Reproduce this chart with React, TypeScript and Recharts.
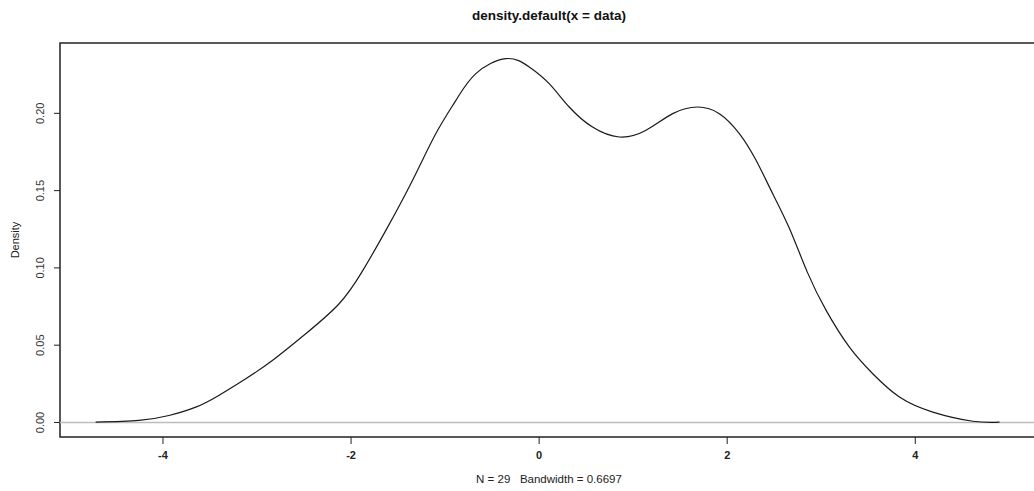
import { LineChart, Line, XAxis, YAxis, ReferenceLine, ReferenceArea } from 'recharts';

// values
const xs = [
  -4.716, -4.256, -3.937, -3.652, -3.407, -3.12, -2.837, -2.482, -2.127, -1.879,
  -1.63, -1.347, -1.098, -0.885, -0.673, -0.353, -0.105, 0.107, 0.32, 0.568,
  0.852, 1.137, 1.42, 1.686, 1.917, 2.129, 2.307, 2.484, 2.661, 2.853,
  3.052, 3.3, 3.548, 3.832, 4.186, 4.612, 4.896,
];
const density = [
  0.0002, 0.0013, 0.0045, 0.0099, 0.0175, 0.0283, 0.0401, 0.0574, 0.0768, 0.0979,
  0.1243, 0.1566, 0.1869, 0.2084, 0.2257, 0.2354, 0.23, 0.2192, 0.2041, 0.1911,
  0.1847, 0.189, 0.1998, 0.2041, 0.1998, 0.1869, 0.1696, 0.148, 0.1256, 0.0971,
  0.0725, 0.0487, 0.0315, 0.0164, 0.0067, 0.0008, 0.0002,
];
const xTicks = [-4, -2, 0, 2, 4];
const yTicks = [0, 0.05, 0.1, 0.15, 0.2];
const xDomain = [-5.095, 5.305];
const yDomain = [-0.0094, 0.2455];

const data = xs.map((x, i) => ({ x, y: density[i] }));

const font = '"Liberation Sans", Arial, sans-serif';

const XTick = ({ x, y, payload }: any) => (
  <text x={x} y={y} dy={13} textAnchor="middle" fontSize={11} fontWeight="bold" fill="#222" fontFamily={font}>
    {payload.value}
  </text>
);

const YTick = ({ x, y, payload }: any) => (
  <text
    x={x - 8}
    y={y}
    transform={`rotate(-90 ${x - 8} ${y})`}
    textAnchor="middle"
    fontSize={11}
    fill="#333"
    fontFamily={font}
  >
    {payload.value.toFixed(2)}
  </text>
);

export default function App() {
  return (
    <div style={{ position: 'absolute', left: 0, top: 0, width: 1034, height: 491, overflow: 'hidden', background: '#fff' }}>
      <div style={{ position: 'absolute', left: 0, width: 1098, top: 8, textAlign: 'center', fontFamily: font, fontWeight: 'bold', fontSize: 13.5, color: '#111' }}>
        density.default(x = data)
      </div>
      <div style={{ position: 'absolute', left: 0, width: 1098, top: 473, textAlign: 'center', fontFamily: font, fontSize: 11.5, color: '#222', whiteSpace: 'pre' }}>
        N = 29   Bandwidth = 0.6697
      </div>
      <svg style={{ position: 'absolute', left: 0, top: 0 }} width={40} height={491}>
        <text x={19} y={240} transform="rotate(-90 19 240)" textAnchor="middle" fontSize={11} fill="#222" fontFamily={font}>
          Density
        </text>
      </svg>
      <LineChart width={1060} height={491} data={data} margin={{ top: 43, right: 22, bottom: 24, left: 0 }}>
        <XAxis
          type="number"
          dataKey="x"
          domain={xDomain}
          ticks={xTicks}
          allowDataOverflow
          axisLine={false}
          tickSize={7}
          tickLine={{ stroke: '#222' }}
          tick={<XTick />}
          height={30}
        />
        <YAxis
          type="number"
          domain={yDomain}
          ticks={yTicks}
          allowDataOverflow
          axisLine={false}
          tickSize={6}
          tickLine={{ stroke: '#222' }}
          tick={<YTick />}
          width={60}
        />
        <ReferenceLine y={0} stroke="#bdbdbd" strokeWidth={1.5} />
        <ReferenceArea x1={xDomain[0]} x2={xDomain[1]} y1={yDomain[0]} y2={yDomain[1]} fill="none" stroke="#222" strokeWidth={1.5} />
        <Line type="natural" dataKey="y" stroke="#1a1a1a" strokeWidth={1.2} dot={false} isAnimationActive={false} />
      </LineChart>
    </div>
  );
}
